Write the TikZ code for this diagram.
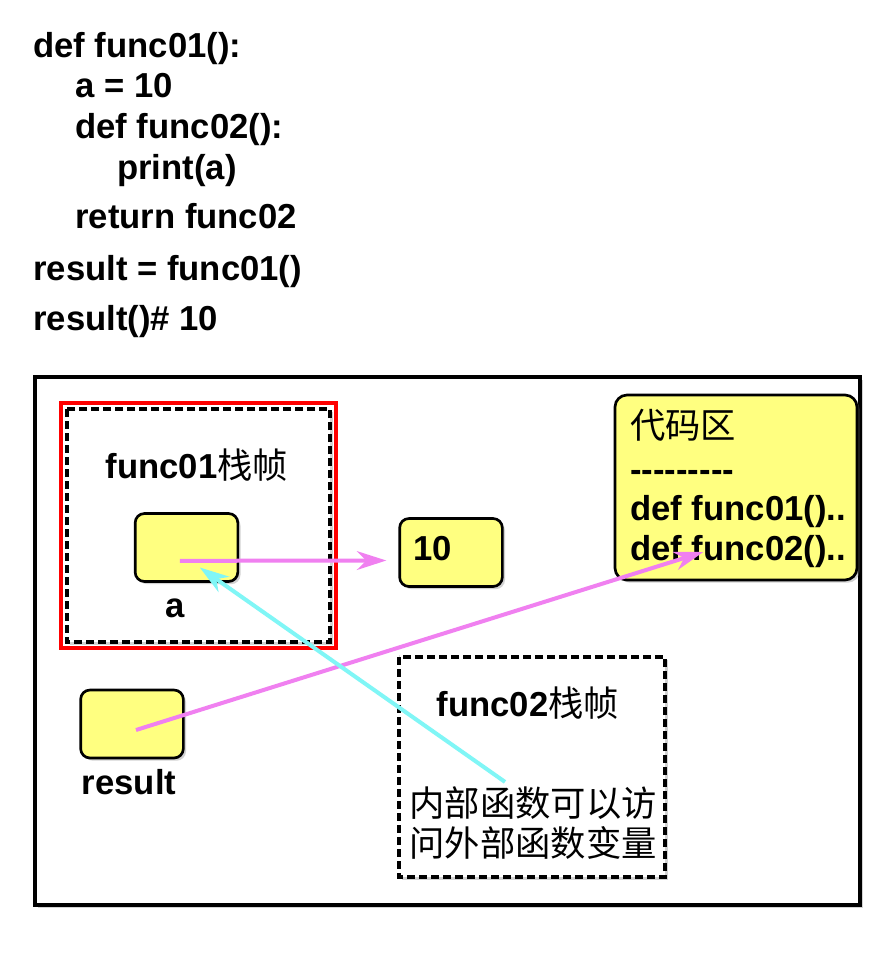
\documentclass[tikz,border=0pt]{standalone}
\usepackage{fontspec}
\setmainfont{Liberation Sans}
\newfontfamily\cjk{Noto Sans CJK SC}
\usepackage{tikz}
\usetikzlibrary{positioning}
\usetikzlibrary{arrows.meta,shadows}
\definecolor{memyellow}{HTML}{FFFF80}
\definecolor{ptrpink}{HTML}{F080F0}
\definecolor{ptrcyan}{HTML}{80F6F6}
\tikzstyle{arrow} = [line width=3pt,-{Stealth[length=22pt,width=14pt,inset=7pt]}]
\tikzstyle{softshadow} = [drop shadow={opacity=0.35,shadow xshift=2pt,shadow yshift=-2pt}]
\tikzstyle{cell} = [draw,line width=2pt,rounded corners=7pt,fill=memyellow,minimum width=77pt,minimum height=51pt,softshadow]
\tikzstyle{frame} = [draw,line width=2.5pt,dash pattern=on 6pt off 3pt,fill=white,softshadow]
\tikzstyle{code} = [anchor=base west,inner sep=0pt,font=\bfseries\fontsize{26}{30}\selectfont]
\tikzstyle{label} = [anchor=base,inner sep=0pt,font=\bfseries\fontsize{26}{30}\selectfont]
\tikzstyle{note} = [anchor=base,inner sep=0pt,font=\cjk\fontsize{26.5}{30}\selectfont]

\begin{document}
\begin{tikzpicture}[x=0.75pt,y=-0.75pt]
				\useasboundingbox (0,0) rectangle (890,958);

				%Source code
				\node [code] (l1) at (33,57) {def func01():};
				\node [code] (l2) at (75,97) {a = 10};
				\node [code] (l3) at (75,138) {def func02():};
				\node [code] (l4) at (117,179) {print(a)};
				\node [code] (l5) at (75,228) {return func02};
				\node [code] (l6) at (33,280) {result = func01()};
				\node [code] (l7) at (33,330) {result()\# 10};

				%Frames
				\draw [line width=3.5pt,fill=white,softshadow] (35,377) rectangle (860,905);
				\draw [red,line width=3pt,fill=white] (61,403) rectangle (336,648);
				\draw [frame] (67,409) rectangle (330,642);
				\draw [frame] (399,657) rectangle (665,877);

				%Nodes
				\node [label] (f1) at (197,478) {func01{\cjk\mdseries\fontsize{26.5}{30}\selectfont 栈帧}};
				\node [cell] (a) at (186.5,547.5) {};
				\node [label] (alabel) at (175,617) {a};
				\node [cell] (ten) at (451,552.5) {};
				\node [code] (tenval) at (413,560) {10};
				\node [cell] (result) at (132,724) {};
				\node [label] (rlabel) at (129,794) {result};
				\node [label] (f2) at (528,716) {func02{\cjk\mdseries\fontsize{26.5}{30}\selectfont 栈帧}};
				\node [note] (note1) at (533,816) {内部函数可以访};
				\node [note] (note2) at (533,856) {问外部函数变量};

				\node [draw,line width=2pt,rounded corners=9pt,fill=memyellow,minimum width=181.5pt,minimum height=138.75pt,softshadow] (codearea) at (736,487.5) {};
				\node [note,anchor=base west] (c1) at (630,438) {代码区};
				\node [code] (c2) at (630,481) {-{}-{}-{}-{}-{}-{}-{}-{}-};
				\node [code] (c3) at (630,520) {def func01()..};
				\node [code] (c4) at (630,560) {def func02()..};

				%Lines
				\draw [arrow,ptrpink] ([xshift=-5pt,yshift=-10pt]a.center) -- ([xshift=-9pt,yshift=-6pt]ten.west);
				\draw [arrow,ptrpink] ([xshift=3pt,yshift=-4.5pt]result.center) -- ([xshift=55pt,yshift=6pt]c4.base west);
				\draw [arrow,ptrcyan] ([xshift=-21pt,yshift=3pt]note1.north) -- ([xshift=10pt,yshift=-15pt]a.center);

			\end{tikzpicture}
\end{document}
